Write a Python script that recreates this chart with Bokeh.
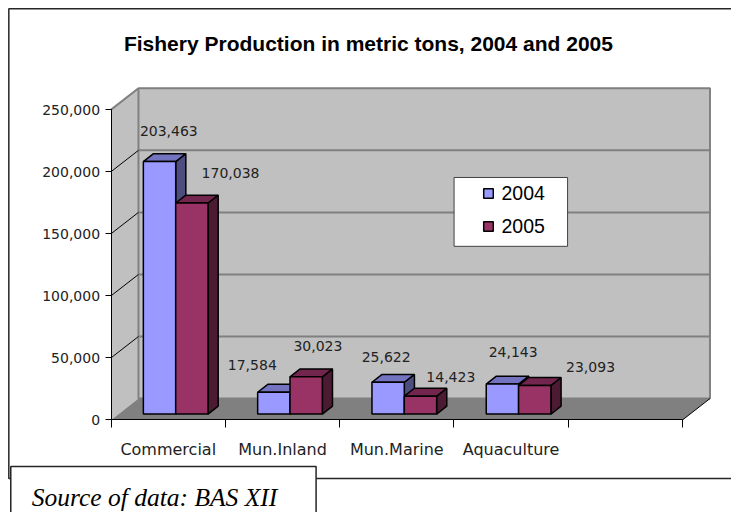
from bokeh.plotting import figure
from bokeh.models import (Range1d, LinearAxis, FixedTicker, NumeralTickFormatter, Label,
                          Legend, LegendItem, ColumnDataSource)
from bokeh.core.properties import value
from bokeh.embed import file_html
from bokeh.resources import INLINE

# ---------------- data ----------------
categories = ["Commercial", "Mun.Inland", "Mun.Marine", "Aquaculture"]
years = ["2004", "2005"]
prod_2004 = [203463, 17584, 25622, 24143]
prod_2005 = [170038, 30023, 14423, 23093]
y_ticks = [0, 50000, 100000, 150000, 200000, 250000]
n_slots = 5  # category slots on the floor (last one empty)

# ---------------- layout constants ----------------
W, H = 731, 512
REF_W, REF_H = 747, 528            # design grid (reference pixels)
SXF, SYF = W / REF_W, H / REF_H
ORIGIN_X, ORIGIN_Y = 113, 432.5    # design px of data (0, 0)
PX_PER_CAT = 116.8
PX_PER_TON = 1.28 / 1000


def X(px):
    return (px - ORIGIN_X) / PX_PER_CAT


def Y(py):
    return (ORIGIN_Y - py) / PX_PER_TON


DX = 28 / PX_PER_CAT          # full depth of the 3D box
DY = 22 / PX_PER_TON
F0 = 6 / 22                   # depth of the bar front plane
FB = 0.37                     # depth of the bars
BAR_W = 0.283

# data-label offsets (design px)
lab_dx = [[9.5, -22, -2, 11], [39.5, 12, 31, 57]]
lab_dy = [[-31, -28, -26, -33], [-31, -32, -20, -19]]

front_cols = ["#9999FF", "#993366"]
side_cols = ["#4D4D80", "#4D1A33"]
top_cols = ["#7373C0", "#73264D"]

p = figure(width=W, height=H, x_range=Range1d(X(0), X(REF_W)), y_range=Range1d(Y(REF_H), Y(0)),
           output_backend="svg", toolbar_location=None, x_axis_type=None, y_axis_type=None,
           min_border=0)
p.outline_line_color = None
p.background_fill_color = "white"
p.border_fill_color = "white"
p.title.visible = False

ymax = y_ticks[-1]
xmax = n_slots

# outer chart border (right side lies beyond the canvas)
p.quad(left=X(8.5), right=X(800), top=Y(8.5), bottom=Y(493), fill_color=None,
       line_color="#262626", line_width=1.5)

# walls and floor
p.patch([0, 0, DX, DX], [0, ymax, ymax + DY, DY], fill_color="#C0C0C0", line_color=None)
p.quad(left=DX, right=xmax + DX, bottom=DY, top=ymax + DY, fill_color="#C0C0C0",
       line_color="#808080", line_width=2)
p.patch([0, xmax, xmax + DX, DX], [0, 0, DY, DY], fill_color="#808080", line_color=None)
inner = y_ticks[1:-1]
p.multi_line([[DX, xmax + DX] for t in inner], [[t + DY, t + DY] for t in inner],
             line_color="#808080", line_width=2)
p.multi_line([[0, DX] for t in inner], [[t, t + DY] for t in inner], line_color="black", line_width=1)
p.line([0, DX], [ymax, ymax + DY], line_color="#808080", line_width=2)
p.line([xmax, xmax + DX], [0, DY], line_color="black", line_width=1)

# bars
base = F0 * DY
sx = F0 * DX
ddx, ddy = FB * DX, FB * DY
series = [prod_2004, prod_2005]
sides_xs, sides_ys, sides_c = [], [], []
tops_xs, tops_ys, tops_c = [], [], []
fronts = [dict(left=[], right=[], bottom=[], top=[]) for _ in series]
for i in range(len(categories)):
    c = i + 0.5
    for j, vals in enumerate(series):
        v = vals[i]
        x0 = c - BAR_W + j * BAR_W + sx
        x1 = x0 + BAR_W
        y0, y1 = base, base + v
        sides_xs.append([x1, x1, x1 + ddx, x1 + ddx])
        sides_ys.append([y0, y1, y1 + ddy, y0 + ddy])
        sides_c.append(side_cols[j])
        tops_xs.append([x0, x1, x1 + ddx, x0 + ddx])
        tops_ys.append([y1, y1, y1 + ddy, y1 + ddy])
        tops_c.append(top_cols[j])
        fronts[j]["left"].append(x0)
        fronts[j]["right"].append(x1)
        fronts[j]["bottom"].append(y0)
        fronts[j]["top"].append(y1)

p.patches(sides_xs + tops_xs, sides_ys + tops_ys, fill_color=sides_c + tops_c,
          line_color="black", line_width=1.5)
renderers = []
for j in range(len(series)):
    r = p.quad(source=ColumnDataSource(fronts[j]), left="left", right="right", bottom="bottom",
               top="top", fill_color=front_cols[j], line_color="black", line_width=1.5)
    renderers.append(r)

# data labels
lx, ly, lt, ox, oy = [], [], [], [], []
for j, vals in enumerate(series):
    for i, v in enumerate(vals):
        lx.append((fronts[j]["left"][i] + fronts[j]["right"][i]) / 2)
        ly.append(fronts[j]["top"][i])
        lt.append(f"{v:,}")
        ox.append(lab_dx[j][i] * SXF)
        oy.append(lab_dy[j][i] * SYF)
p.text(x=lx, y=ly, text=lt, x_offset=ox, y_offset=oy, text_align="center",
       text_baseline="middle", text_font=value("DejaVu Sans"), text_font_size="14px",
       text_color="#222222")

# axes
yax = LinearAxis(fixed_location=0, bounds=(0, ymax),
                 ticker=FixedTicker(ticks=y_ticks, minor_ticks=[]),
                 formatter=NumeralTickFormatter(format="0,0"),
                 major_tick_out=6, major_tick_in=0, minor_tick_out=0, minor_tick_in=0,
                 major_label_standoff=5, major_label_text_font="DejaVu Sans",
                 major_label_text_font_size="14px", major_label_text_color="#222222",
                 axis_line_color="black", major_tick_line_color="black")
p.add_layout(yax, "left")
xax = LinearAxis(fixed_location=0, bounds=(0, xmax),
                 ticker=FixedTicker(ticks=[i + 0.5 for i in range(len(categories))],
                                    minor_ticks=list(range(n_slots + 1))),
                 major_label_overrides={i + 0.5: c for i, c in enumerate(categories)},
                 major_tick_line_color=None, major_tick_out=0, major_tick_in=0,
                 minor_tick_out=8, minor_tick_in=0, minor_tick_line_color="black",
                 major_label_standoff=12, major_label_text_font="DejaVu Sans",
                 major_label_text_font_size="16px", major_label_text_color="#222222",
                 axis_line_color="black")
p.add_layout(xax, "below")

# legend box + legend
p.quad(left=X(463.5), right=X(579.5), top=Y(182.5), bottom=Y(253.5), fill_color="white",
       line_color="#404040", line_width=1)
legend = Legend(items=[LegendItem(label=years[j], renderers=[renderers[j]]) for j in range(2)],
                location=(481.5, 274), orientation="vertical", padding=0, margin=0, spacing=9,
                glyph_width=12, glyph_height=12, label_height=24, label_standoff=8,
                label_text_font="Liberation Sans", label_text_font_size="19.5px",
                label_text_color="black", border_line_color=None, background_fill_alpha=0)
p.add_layout(legend)

# source box
p.quad(left=X(10.5), right=X(322.5), top=Y(480.5), bottom=Y(560), fill_color="white",
       line_color="#262626", line_width=1.5)
p.add_layout(Label(x=X(32), y=Y(513), text="Source of data: BAS XII", text_font="Liberation Serif",
                   text_font_style="italic", text_font_size="25.5px", text_baseline="alphabetic",
                   text_align="left", text_color="black"))

# title
p.add_layout(Label(x=X(376), y=Y(44.5), text="Fishery Production in metric tons, 2004 and 2005",
                   text_font="Liberation Sans", text_font_style="bold", text_font_size="21px",
                   text_baseline="alphabetic", text_align="center", text_color="black"))

open("out.html", "w").write(file_html(p, INLINE))
